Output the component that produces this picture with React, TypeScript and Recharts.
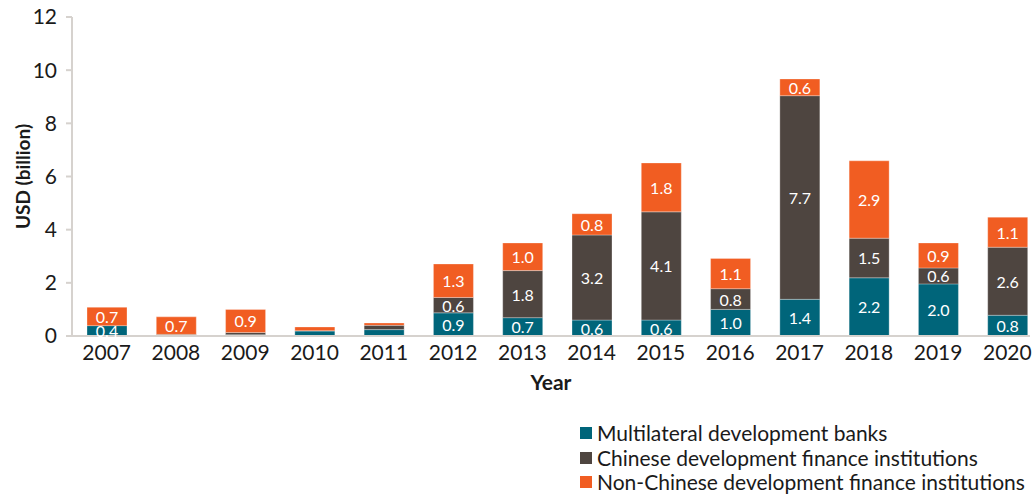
import { BarChart, Bar, XAxis, YAxis, LabelList } from "recharts";

const years = ["2007", "2008", "2009", "2010", "2011", "2012", "2013", "2014", "2015", "2016", "2017", "2018", "2019", "2020"];
const multilateral = [0.39, 0.06, 0.05, 0.19, 0.24, 0.87, 0.69, 0.6, 0.6, 1.0, 1.38, 2.19, 1.96, 0.78];
const chinese = [0, 0, 0.08, 0.01, 0.16, 0.58, 1.77, 3.2, 4.07, 0.78, 7.66, 1.49, 0.6, 2.56];
const nonChinese = [0.69, 0.66, 0.87, 0.14, 0.09, 1.26, 1.04, 0.8, 1.84, 1.14, 0.63, 2.91, 0.94, 1.13];
const yTicks = [0, 2, 4, 6, 8, 10, 12];

const data = years.map((year, i) => ({
  year,
  mdb: multilateral[i],
  cdfi: chinese[i],
  ndfi: nonChinese[i],
}));

const C_MDB = "#00657a";
const C_CDFI = "#4e4540";
const C_NDFI = "#f15d22";
const FONT = "Lato, 'Open Sans', sans-serif";
const AXIS = "#d6d2ce";

const series = [
  { key: "mdb", name: "Multilateral development banks", color: C_MDB },
  { key: "cdfi", name: "Chinese development finance institutions", color: C_CDFI },
  { key: "ndfi", name: "Non-Chinese development finance institutions", color: C_NDFI },
];

const SegLabel = (props: any) => {
  const { x, y, width, height, value } = props;
  if (value == null || value < 0.35) return null;
  return (
    <text
      x={x + width / 2}
      y={y + height / 2}
      fill="#ffffff"
      fontSize={16}
      fontFamily={FONT}
      textAnchor="middle"
      dominantBaseline="central"
    >
      {Number(value).toFixed(1)}
    </text>
  );
};

const YearLabel = (props: any) => {
  const vb = props.viewBox;
  return (
    <text
      x={vb.x + vb.width / 2}
      y={vb.y + 45}
      fontSize={21}
      fontWeight={700}
      fontFamily={FONT}
      fill="#1a1a1a"
      textAnchor="middle"
      dominantBaseline="central"
    >
      Year
    </text>
  );
};

const UsdLabel = (props: any) => {
  const vb = props.viewBox;
  const cx = 22;
  const cy = vb.y + vb.height / 2;
  return (
    <text
      x={cx}
      y={cy}
      transform={`rotate(-90 ${cx} ${cy})`}
      fontSize={19}
      fontWeight={700}
      fontFamily={FONT}
      fill="#1a1a1a"
      textAnchor="middle"
      dominantBaseline="central"
    >
      USD (billion)
    </text>
  );
};

const App = () => {
  return (
    <div style={{ position: "absolute", left: 0, top: 0, width: 1035, height: 496, background: "#fff" }}>
      <BarChart
        width={1035}
        height={496}
        data={data}
        margin={{ top: 17, right: 5, left: 0, bottom: 100 }}
      >
        <XAxis
          dataKey="year"
          height={60}
          axisLine={{ stroke: AXIS, strokeWidth: 2 }}
          tickLine={false}
          tickSize={0}
          tickMargin={9}
          padding={{ left: 0, right: -12 }}
          tick={{ fontSize: 21, fill: "#1a1a1a", fontFamily: FONT }}
          interval={0}
          label={<YearLabel />}
        />
        <YAxis
          width={72}
          domain={[0, 12]}
          ticks={yTicks}
          interval={0}
          axisLine={{ stroke: AXIS, strokeWidth: 2 }}
          tickLine={{ stroke: AXIS, strokeWidth: 2 }}
          tickSize={6}
          tickMargin={9}
          tick={{ fontSize: 21, fill: "#1a1a1a", fontFamily: FONT }}
          label={<UsdLabel />}
        />
        {series.map((s) => (
          <Bar
            key={s.key}
            dataKey={s.key}
            name={s.name}
            stackId="a"
            fill={s.color}
            barSize={40}
            stroke="#ffffff"
            strokeOpacity={0.5}
            strokeWidth={0.6}
            isAnimationActive={false}
          >
            <LabelList dataKey={s.key} content={<SegLabel />} />
          </Bar>
        ))}
      </BarChart>
      <div
        style={{
          position: "absolute",
          left: 580,
          top: 421,
          fontFamily: FONT,
          fontSize: 21,
          color: "#1a1a1a",
          lineHeight: "24.5px",
        }}
      >
        {series.map((s) => (
          <div key={s.key} style={{ display: "flex", alignItems: "center", whiteSpace: "nowrap" }}>
            <span style={{ width: 12, height: 12, background: s.color, marginRight: 5, display: "inline-block" }} />
            {s.name}
          </div>
        ))}
      </div>
    </div>
  );
};

export default App;
